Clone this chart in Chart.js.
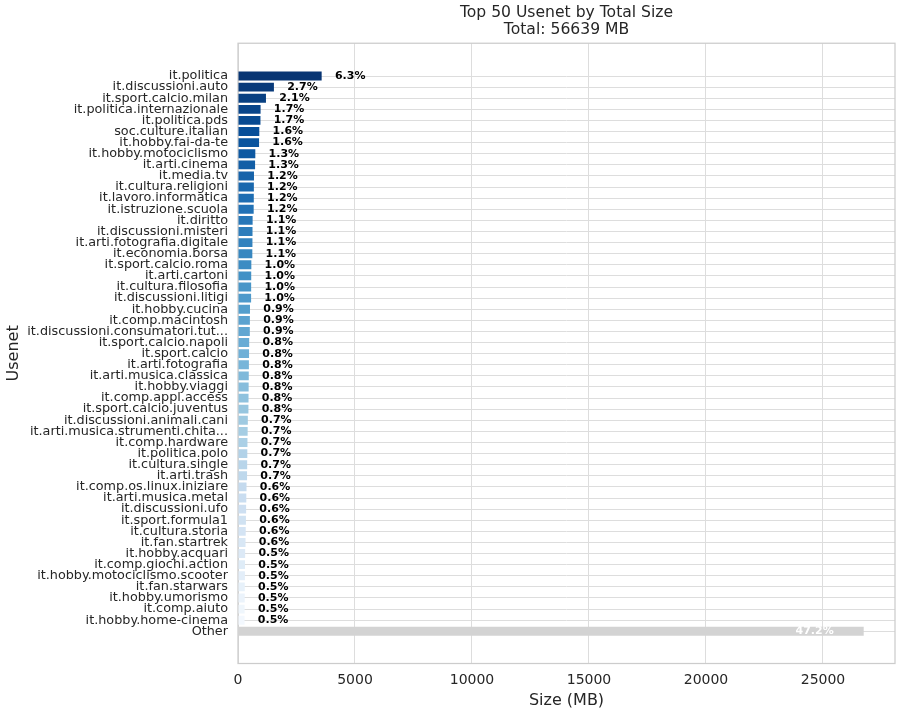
<!DOCTYPE html>
<html>
<head>
<meta charset="utf-8">
<script src="https://cdn.jsdelivr.net/npm/chart.js@4.4.0/dist/chart.umd.min.js"></script>
<style>
  html, body { margin: 0; padding: 0; background: #fff; }
  #wrap { width: 902px; height: 715px; }
</style>
</head>
<body>
<div id="wrap"><canvas id="chart"></canvas></div>
<script>
var groups = [
  "it.politica", "it.discussioni.auto", "it.sport.calcio.milan", "it.politica.internazionale",
  "it.politica.pds", "soc.culture.italian", "it.hobby.fai-da-te", "it.hobby.motociclismo",
  "it.arti.cinema", "it.media.tv", "it.cultura.religioni", "it.lavoro.informatica",
  "it.istruzione.scuola", "it.diritto", "it.discussioni.misteri", "it.arti.fotografia.digitale",
  "it.economia.borsa", "it.sport.calcio.roma", "it.arti.cartoni", "it.cultura.filosofia",
  "it.discussioni.litigi", "it.hobby.cucina", "it.comp.macintosh", "it.discussioni.consumatori.tut...",
  "it.sport.calcio.napoli", "it.sport.calcio", "it.arti.fotografia", "it.arti.musica.classica",
  "it.hobby.viaggi", "it.comp.appl.access", "it.sport.calcio.juventus", "it.discussioni.animali.cani",
  "it.arti.musica.strumenti.chita...", "it.comp.hardware", "it.politica.polo", "it.cultura.single",
  "it.arti.trash", "it.comp.os.linux.iniziare", "it.arti.musica.metal", "it.discussioni.ufo",
  "it.sport.formula1", "it.cultura.storia", "it.fan.startrek", "it.hobby.acquari",
  "it.comp.giochi.action", "it.hobby.motociclismo.scooter", "it.fan.starwars", "it.hobby.umorismo",
  "it.comp.aiuto", "it.hobby.home-cinema", "Other"
];
// size in MB
var sizes = [
  3575, 1535, 1195, 965, 960, 910, 900, 740,
  730, 683, 678, 675, 670, 625, 620, 617,
  612, 570, 565, 562, 560, 512, 508, 505,
  478, 472, 466, 460, 455, 450, 446, 420,
  412, 404, 398, 392, 387, 364, 355, 347,
  339, 330, 322, 306, 300, 295, 290, 287,
  284, 281, 26740
];
var total = 56639;
var xTicks = [0, 5000, 10000, 15000, 20000, 25000];

var FONT = "'DejaVu Sans', sans-serif";
var TEXT = '#262626';

// matplotlib Blues, sampled like seaborn "Blues_r"
var bluesStops = ['#f7fbff', '#deebf7', '#c6dbef', '#9ecae1', '#6baed6', '#4292c6', '#2171b5', '#08519c', '#08306b'];
function hex2rgb(h) {
  return [parseInt(h.substr(1, 2), 16), parseInt(h.substr(3, 2), 16), parseInt(h.substr(5, 2), 16)];
}
function blues(t) {
  var p = t * (bluesStops.length - 1);
  var i = Math.min(Math.floor(p), bluesStops.length - 2);
  var f = p - i;
  var a = hex2rgb(bluesStops[i]), b = hex2rgb(bluesStops[i + 1]);
  return 'rgb(' + a.map(function (v, k) { return Math.round(v + (b[k] - v) * f); }).join(',') + ')';
}
var n = groups.length - 1;
var colors = groups.map(function (g, i) {
  if (g === 'Other') return '#d3d3d3';
  return blues(1 - (i + 1) / (n + 1));
});

var framePlugin = {
  id: 'frame',
  beforeDatasetsDraw: function (chart) {
    var a = chart.chartArea, ctx = chart.ctx;
    ctx.save();
    ctx.strokeStyle = '#cccccc';
    ctx.lineWidth = 1.25;
    ctx.strokeRect(a.left, a.top, a.right - a.left, a.bottom - a.top);
    ctx.restore();
  }
};

var pctPlugin = {
  id: 'pctLabels',
  afterDatasetsDraw: function (chart) {
    var ctx = chart.ctx, xs = chart.scales.x;
    var meta = chart.getDatasetMeta(0);
    ctx.save();
    ctx.font = 'bold 11px ' + FONT;
    ctx.textBaseline = 'middle';
    meta.data.forEach(function (bar, i) {
      var txt = (sizes[i] / total * 100).toFixed(1) + '%';
      if (groups[i] === 'Other') {
        ctx.fillStyle = '#ffffff';
        ctx.textAlign = 'right';
        ctx.fillText(txt, bar.x - 30, bar.y);
      } else {
        ctx.fillStyle = '#000000';
        ctx.textAlign = 'left';
        ctx.fillText(txt, xs.getPixelForValue(sizes[i] + total * 0.01), bar.y);
      }
    });
    ctx.restore();
  }
};

new Chart(document.getElementById('chart'), {
  type: 'bar',
  data: {
    datasets: [{
      data: sizes.map(function (v, i) { return { x: v, y: i }; }),
      backgroundColor: colors,
      borderWidth: 0,
      barPercentage: 0.8,
      categoryPercentage: 1.0
    }]
  },
  options: {
    indexAxis: 'y',
    responsive: true,
    maintainAspectRatio: false,
    animation: false,
    layout: { padding: { left: 0, right: 7, top: 0, bottom: 0 } },
    plugins: {
      legend: { display: false },
      tooltip: { enabled: false },
      title: {
        display: true,
        fullSize: false,
        text: ['Top 50 Usenet by Total Size', 'Total: ' + total + ' MB'],
        color: TEXT,
        font: { family: FONT, size: 15.6, weight: 'normal', lineHeight: 1.12 },
        padding: { top: 3.8, bottom: 4.5 }
      }
    },
    scales: {
      x: {
        type: 'linear',
        position: 'bottom',
        min: 0,
        max: 28077,
        afterBuildTicks: function (s) { s.ticks = xTicks.map(function (v) { return { value: v }; }); },
        afterFit: function (s) { s.height = 51.5; },
        grid: { color: '#dddddd', lineWidth: 1, drawTicks: false },
        border: { display: false },
        ticks: {
          color: TEXT,
          font: { family: FONT, size: 14 },
          padding: 8.5,
          callback: function (v) { return String(v); }
        },
        title: { display: true, text: 'Size (MB)', color: TEXT, font: { family: FONT, size: 16, lineHeight: 1.2 }, padding: { top: 2, bottom: 4.4 } }
      },
      y: {
        type: 'linear',
        reverse: true,
        offset: false,
        min: -2.95,
        max: 52.9,
        afterBuildTicks: function (s) { s.ticks = groups.map(function (g, i) { return { value: i }; }); },
        afterFit: function (s) { s.width = 238; },
        grid: { color: '#dddddd', lineWidth: 1, drawTicks: false, offset: false },
        border: { display: false },
        ticks: {
          autoSkip: false,
          color: TEXT,
          font: { family: FONT, size: 12.8 },
          padding: 10,
          callback: function (v) { return groups[v]; }
        },
        title: { display: true, text: 'Usenet', color: TEXT, font: { family: FONT, size: 16, lineHeight: 1.2 }, padding: { top: 4, bottom: 0 } }
      }
    }
  },
  plugins: [framePlugin, pctPlugin]
});
</script>
</body>
</html>
